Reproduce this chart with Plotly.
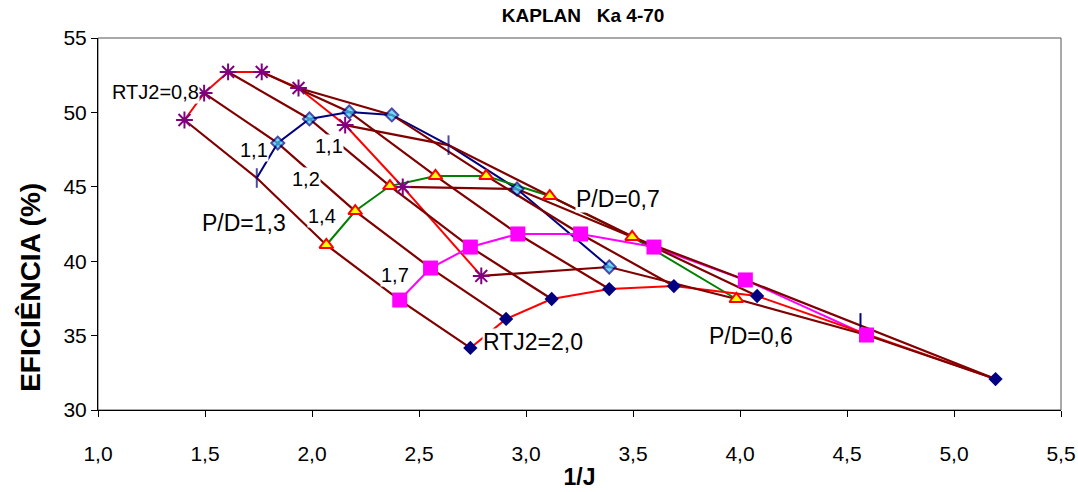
import plotly.graph_objects as go

# ---- data (1/J, efficiency %) ----
# RTJ2 = 0,8 (purple asterisks, red line)
rtj08_x = [1.404, 1.496, 1.608, 1.765, 1.937, 2.155, 2.424, 2.791]
rtj08_y = [49.49, 51.30, 52.72, 52.72, 51.64, 49.15, 44.99, 39.01]
# RTJ2 = 1,1 (cyan diamonds / long bars, navy line)
rtj11_x = [1.742, 1.840, 1.988, 2.174, 2.373, 2.638, 2.958, 3.389]
rtj11_y = [45.59, 47.94, 49.56, 50.03, 49.83, 47.80, 44.85, 39.61]
rtj11_bar = [True, False, False, False, False, True, False, False]
# extra RTJ2 = 1,1 point (long bar only)
extra_x = [4.563]
extra_y = [35.85]
# RTJ2 = 1,4 (yellow triangles, green line)
rtj14_x = [2.067, 2.202, 2.364, 2.577, 2.814, 3.111, 3.496, 3.983]
rtj14_y = [41.09, 43.37, 45.05, 45.73, 45.73, 44.38, 41.63, 37.46]
# RTJ2 = 1,7 (magenta squares)
rtj17_x = [2.410, 2.554, 2.740, 2.962, 3.255, 3.598, 4.025, 4.591]
rtj17_y = [37.39, 39.54, 40.95, 41.83, 41.83, 40.95, 38.74, 35.04]
# RTJ2 = 2,0 (navy diamonds, red line)
rtj20_x = [2.740, 2.907, 3.120, 3.389, 3.691, 4.080, 5.194]
rtj20_y = [34.17, 36.12, 37.46, 38.13, 38.33, 37.66, 32.08]

# P/D curves: index into each RTJ2 series (0,8 / 1,1 / 1,4 / 1,7 / 2,0)
pd_labels = ["1,3", "1,2", "1,1", "1,0", "0,9", "0,8", "0,7", "0,6"]
pd_idx08 = [0, 1, 2, 3, 4, 5, 6, 7]
pd_idx11 = [0, 1, 2, 3, 4, 5, 6, 7]
pd_idx14 = [0, 1, 2, 3, 4, 5, 6, 7]
pd_idx17 = [0, 1, 2, 3, 4, 5, 6, 7]
pd_idx20 = [0, 1, 2, 3, 4, 5, 6, 6]

# text labels
lab_text = ["RTJ2=0,8", "1,1", "1,1", "1,2", "P/D=1,3", "1,4", "1,7",
            "RTJ2=2,0", "P/D=0,7", "P/D=0,6"]
lab_x = [1.27, 1.728, 2.080, 1.970, 1.682, 2.048, 2.387, 3.032, 3.428, 4.053]
lab_y = [51.40, 47.44, 47.74, 45.52, 42.57, 43.04, 39.10, 34.57, 44.20, 35.00]
lab_size = [20, 20, 20, 20, 23, 20, 20, 23, 23, 23]

NAVY = "#000080"
BROWN = "#800000"
PURPLE = "#800080"
FONT = "Liberation Sans, Arial"

fig = go.Figure()

# coloured curve lines
for xs, ys, col in [(rtj08_x, rtj08_y, "#FF0000"),
                    (rtj11_x, rtj11_y, NAVY),
                    (rtj14_x, rtj14_y, "#008000"),
                    (rtj17_x, rtj17_y, "#FF00FF"),
                    (rtj20_x, rtj20_y, "#FF0000")]:
    fig.add_trace(go.Scatter(x=xs, y=ys, mode="lines",
                             line=dict(color=col, width=2), hoverinfo="skip"))

# brown P/D curves
for k, lab in enumerate(pd_labels):
    xs = [rtj08_x[pd_idx08[k]], rtj11_x[pd_idx11[k]], rtj14_x[pd_idx14[k]],
          rtj17_x[pd_idx17[k]], rtj20_x[pd_idx20[k]]]
    ys = [rtj08_y[pd_idx08[k]], rtj11_y[pd_idx11[k]], rtj14_y[pd_idx14[k]],
          rtj17_y[pd_idx17[k]], rtj20_y[pd_idx20[k]]]
    fig.add_trace(go.Scatter(x=xs, y=ys, mode="lines", name="P/D=" + lab,
                             line=dict(color=BROWN, width=2.2)))

# markers
fig.add_trace(go.Scatter(x=rtj08_x, y=rtj08_y, mode="markers",
                         marker=dict(symbol="asterisk", size=14,
                                     line=dict(color=PURPLE, width=2))))
sym11 = ["line-ns" if b else "diamond" for b in rtj11_bar]
siz11 = [14 if b else 10 for b in rtj11_bar]
fig.add_trace(go.Scatter(x=rtj11_x, y=rtj11_y, mode="markers",
                         marker=dict(symbol=sym11, size=siz11, color="#33CCFF",
                                     line=dict(color=NAVY, width=2))))
fig.add_trace(go.Scatter(x=extra_x, y=extra_y, mode="markers",
                         marker=dict(symbol="line-ns", size=14,
                                     line=dict(color=NAVY, width=2))))
fig.add_trace(go.Scatter(x=rtj14_x, y=rtj14_y, mode="markers",
                         marker=dict(symbol="triangle-up", size=12, color="#FFFF00",
                                     line=dict(color="#FF0000", width=2))))
fig.add_trace(go.Scatter(x=rtj17_x, y=rtj17_y, mode="markers",
                         marker=dict(symbol="square", size=15, color="#FF00FF",
                                     line=dict(width=0))))
fig.add_trace(go.Scatter(x=rtj20_x, y=rtj20_y, mode="markers",
                         marker=dict(symbol="diamond", size=11, color=NAVY,
                                     line=dict(width=0))))

for t, x, y, s in zip(lab_text, lab_x, lab_y, lab_size):
    fig.add_annotation(x=x, y=y, text=t, showarrow=False, bgcolor="white",
                       borderpad=0, font=dict(family=FONT, size=s, color="black"))

# y-axis title placed like the original (lower than centre)
fig.add_annotation(xref="paper", yref="paper", x=-0.070, y=0.33,
                   xanchor="center", yanchor="middle",
                   text="<b>EFICIÊNCIA (%)</b>", textangle=-90, showarrow=False,
                   font=dict(family=FONT, size=28, color="black"))

fig.update_layout(
    width=1078, height=492,
    margin=dict(l=98, r=17, t=38, b=82, autoexpand=False),
    paper_bgcolor="white", plot_bgcolor="white",
    showlegend=False,
    separators=",.",
    font=dict(family=FONT, color="black"),
    title=dict(text="<b>KAPLAN&nbsp;&nbsp;&nbsp;Ka 4-70</b>", x=0.5409,
               xanchor="center", y=0.968, yanchor="middle", font=dict(size=19)),
    xaxis=dict(range=[1, 5.5], dtick=0.5, tick0=1, tickformat=".1f",
               showgrid=False, zeroline=False, showline=True, automargin=False,
               linecolor="black", linewidth=1, ticks="outside", ticklen=6,
               tickcolor="black", tickfont=dict(size=21), ticklabelstandoff=19,
               ticklabeloverflow="allow",
               title=dict(text="<b>1/J</b>", font=dict(size=23), standoff=4)),
    yaxis=dict(range=[30, 55], dtick=5, showgrid=False, zeroline=False,
               showline=True, linecolor="black", linewidth=1, ticks="outside",
               automargin=False,
               ticklen=6, tickcolor="black", tickfont=dict(size=21)),
    shapes=[dict(type="rect", xref="paper", yref="paper", x0=0, y0=0, x1=1, y1=1,
                 line=dict(color="#555555", width=1), layer="below")],
)

fig.write_html("out.html")
